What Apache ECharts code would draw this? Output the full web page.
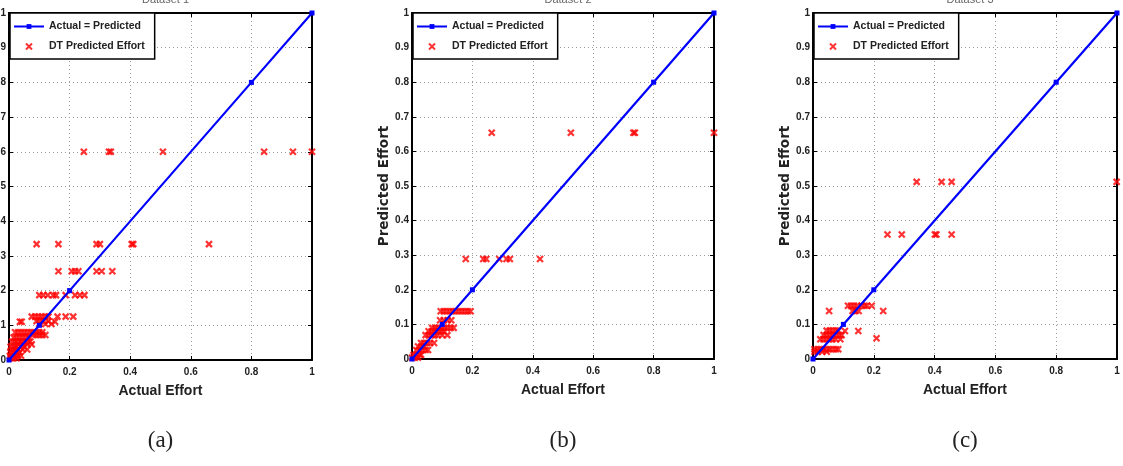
<!DOCTYPE html>
<html>
<head>
<meta charset="utf-8">
<script src="https://cdn.jsdelivr.net/npm/echarts@6/dist/echarts.min.js"></script>
<style>
  html, body { margin: 0; padding: 0; background: #fff; }
  #main { width: 1123px; height: 466px; }
</style>
</head>
<body>
<div id="main"></div>
<script>
// reference line: Actual = Predicted (marker positions)
var idealX = [0, 0.1, 0.2, 0.8, 1];

// DT predicted effort, [actual, predicted]
var dtA = [
  [0.247, 0.6], [0.33, 0.6], [0.336, 0.6], [0.508, 0.6], [0.842, 0.6], [0.937, 0.6], [1.0, 0.6],
  [0.091, 0.334], [0.163, 0.334], [0.289, 0.334], [0.300, 0.334], [0.405, 0.334], [0.41, 0.334], [0.66, 0.334],
  [0.163, 0.256], [0.207, 0.256], [0.218, 0.256], [0.229, 0.256], [0.289, 0.256], [0.306, 0.256], [0.341, 0.256],
  [0.1, 0.187], [0.113, 0.187], [0.128, 0.187], [0.146, 0.187], [0.155, 0.187], [0.187, 0.187], [0.218, 0.187], [0.234, 0.187], [0.249, 0.187],
  [0.075, 0.125], [0.086, 0.125], [0.097, 0.125], [0.108, 0.125], [0.119, 0.125], [0.13, 0.125], [0.16, 0.125], [0.187, 0.125], [0.212, 0.125],
  [0.036, 0.11], [0.042, 0.11], [0.091, 0.112], [0.103, 0.112], [0.115, 0.112], [0.13, 0.112], [0.152, 0.11],
  [0.1, 0.104], [0.12, 0.104], [0.14, 0.104],
  [0.02, 0.08], [0.03, 0.08], [0.04, 0.08], [0.05, 0.08], [0.06, 0.08], [0.07, 0.08], [0.08, 0.08], [0.09, 0.08], [0.1, 0.08], [0.11, 0.08],
  [0.08, 0.072], [0.09, 0.072], [0.1, 0.072], [0.11, 0.072], [0.12, 0.072],
  [0.015, 0.065], [0.025, 0.065], [0.035, 0.065], [0.045, 0.065], [0.055, 0.065], [0.065, 0.065],
  [0.01, 0.053], [0.02, 0.053], [0.03, 0.053], [0.04, 0.053], [0.05, 0.053], [0.06, 0.053], [0.07, 0.053],
  [0.03, 0.045], [0.045, 0.045], [0.06, 0.045], [0.075, 0.045],
  [0.005, 0.038], [0.015, 0.038], [0.025, 0.038], [0.04, 0.038], [0.05, 0.038],
  [0.01, 0.03], [0.02, 0.03], [0.03, 0.03], [0.045, 0.03], [0.06, 0.03],
  [0.005, 0.022], [0.015, 0.022], [0.025, 0.022], [0.035, 0.022],
  [0.003, 0.012], [0.01, 0.012], [0.02, 0.012], [0.03, 0.012], [0.04, 0.012],
  [0.005, 0.005], [0.015, 0.005], [0.025, 0.005]
];

var dtB = [
  [0.264, 0.654], [0.526, 0.654], [0.733, 0.654], [0.738, 0.654], [1.0, 0.654],
  [0.178, 0.289], [0.236, 0.289], [0.246, 0.289], [0.289, 0.289], [0.313, 0.289], [0.324, 0.289], [0.424, 0.289],
  [0.095, 0.138], [0.105, 0.138], [0.115, 0.138], [0.125, 0.138], [0.135, 0.138], [0.145, 0.138], [0.155, 0.138], [0.165, 0.138], [0.175, 0.138], [0.185, 0.138], [0.194, 0.138],
  [0.093, 0.112], [0.105, 0.112], [0.118, 0.112], [0.13, 0.112],
  [0.067, 0.09], [0.077, 0.09], [0.087, 0.09], [0.097, 0.09], [0.107, 0.09], [0.117, 0.09], [0.128, 0.09], [0.138, 0.09],
  [0.055, 0.08], [0.065, 0.08], [0.075, 0.08], [0.085, 0.08], [0.095, 0.08], [0.105, 0.08],
  [0.045, 0.069], [0.055, 0.069], [0.065, 0.069], [0.075, 0.069], [0.085, 0.069], [0.1, 0.069], [0.117, 0.069],
  [0.03, 0.046], [0.04, 0.046], [0.05, 0.046], [0.06, 0.046], [0.073, 0.046],
  [0.02, 0.036], [0.03, 0.036], [0.04, 0.036],
  [0.014, 0.026], [0.025, 0.026], [0.035, 0.026], [0.045, 0.026], [0.053, 0.026],
  [0.005, 0.012], [0.015, 0.012], [0.025, 0.012], [0.03, 0.012],
  [0.0, 0.004], [0.01, 0.004], [0.02, 0.004]
];

var dtC = [
  [0.341, 0.512], [0.423, 0.512], [0.456, 0.512], [0.999, 0.512],
  [0.245, 0.36], [0.292, 0.36], [0.401, 0.36], [0.406, 0.36], [0.456, 0.36],
  [0.115, 0.154], [0.125, 0.154], [0.135, 0.154], [0.145, 0.154], [0.16, 0.154], [0.17, 0.154], [0.178, 0.154], [0.193, 0.154],
  [0.053, 0.139], [0.13, 0.139], [0.14, 0.139], [0.15, 0.139], [0.231, 0.139],
  [0.105, 0.081], [0.149, 0.081], [0.209, 0.06],
  [0.045, 0.082], [0.055, 0.082], [0.065, 0.082], [0.075, 0.082], [0.083, 0.082],
  [0.035, 0.069], [0.045, 0.069], [0.055, 0.069], [0.065, 0.069], [0.075, 0.069], [0.085, 0.069], [0.094, 0.069],
  [0.024, 0.057], [0.034, 0.057], [0.044, 0.057], [0.054, 0.057], [0.064, 0.057], [0.075, 0.057], [0.09, 0.057],
  [0.005, 0.028], [0.015, 0.028], [0.025, 0.028], [0.035, 0.028], [0.045, 0.028], [0.055, 0.028], [0.065, 0.028], [0.075, 0.028], [0.083, 0.028],
  [0.005, 0.021], [0.015, 0.021], [0.03, 0.021], [0.045, 0.021]
];

var panels = [
  { data: dtA, left: 9, width: 303, height: 347, caption: '(a)', title: 'Dataset 1', yName: '' },
  { data: dtB, left: 412, width: 302, height: 346, caption: '(b)', title: 'Dataset 2', yName: 'Predicted Effort' },
  { data: dtC, left: 813, width: 304, height: 346, caption: '(c)', title: 'Dataset 3', yName: 'Predicted Effort' }
];

var FONT = 'Liberation Sans';
var chart = echarts.init(document.getElementById('main'), null, { renderer: 'canvas' });

var grids = [], xAxes = [], yAxes = [], series = [], legends = [], titles = [], graphics = [];

function axisBase(i, pos, interval, withLabel) {
  return {
    gridIndex: i,
    type: 'value',
    position: pos,
    min: 0,
    max: 1,
    interval: interval,
    axisLine: { show: true, onZero: false, lineStyle: { color: '#000', width: 2 } },
    axisTick: { show: true, inside: true, length: 4, lineStyle: { color: '#000', width: 1 } },
    axisLabel: {
      show: withLabel,
      margin: pos === 'bottom' ? 7 : 3,
      fontFamily: FONT,
      fontWeight: 'bold',
      fontSize: 10,
      color: '#222'
    },
    splitLine: { show: withLabel, lineStyle: { type: [1, 3], color: '#9a9a9a', width: 1 } }
  };
}

panels.forEach(function (p, i) {
  grids.push({ left: p.left, top: 13, width: p.width, height: p.height, outerBoundsMode: 'none', containLabel: false });

  var xb = axisBase(i, 'bottom', 0.2, true);
  xb.name = 'Actual Effort';
  xb.nameLocation = 'middle';
  xb.nameGap = 24;
  xb.nameTextStyle = { fontFamily: FONT, fontWeight: 'bold', fontSize: 14, color: '#222' };
  xAxes.push(xb);
  xAxes.push(axisBase(i, 'top', 0.2, false));

  var yl = axisBase(i, 'left', 0.1, true);
  if (p.yName) {
    yl.name = p.yName;
    yl.nameLocation = 'middle';
    yl.nameGap = 21;
    yl.nameTextStyle = { fontFamily: 'DejaVu Sans', fontWeight: 'bold', fontSize: 13.5, color: '#222' };
  }
  yAxes.push(yl);
  yAxes.push(axisBase(i, 'right', 0.1, false));

  series.push({
    name: 'Actual = Predicted',
    type: 'line',
    xAxisIndex: i * 2,
    yAxisIndex: i * 2,
    data: idealX.map(function (v) { return [v, v]; }),
    symbol: 'rect',
    symbolSize: 5,
    showSymbol: true,
    color: '#0000ff',
    lineStyle: { color: '#0000ff', width: 2.2 },
    itemStyle: { color: '#0000ff' },
    z: 3
  });
  series.push({
    name: 'DT Predicted Effort',
    type: 'scatter',
    xAxisIndex: i * 2,
    yAxisIndex: i * 2,
    data: p.data,
    symbol: 'path://M0,0L10,10M10,0L0,10',
    symbolSize: 6,
    itemStyle: { color: 'rgba(0,0,0,0)', borderColor: '#ff0000', borderWidth: 2.2 },
    z: 2
  });

  legends.push({
    left: p.left + 1,
    top: 13,
    orient: 'vertical',
    data: ['Actual = Predicted', 'DT Predicted Effort'],
    backgroundColor: '#fff',
    borderColor: '#000',
    borderWidth: 1.5,
    padding: [8, 10, 7, 3],
    itemGap: 9,
    itemWidth: 30,
    itemHeight: 6,
    selectedMode: false,
    textStyle: { fontFamily: FONT, fontWeight: 'bold', fontSize: 10.5, color: '#222' }
  });

  titles.push({
    text: p.title,
    left: p.left + p.width / 2,
    textAlign: 'center',
    top: -11,
    textStyle: { fontFamily: FONT, fontSize: 11, fontWeight: 'normal', color: '#666' }
  });

  graphics.push({
    type: 'text',
    x: p.left + p.width / 2,
    y: 441,
    style: {
      text: p.caption,
      fontFamily: 'Liberation Serif',
      fontSize: 23,
      fill: '#222',
      align: 'center',
      verticalAlign: 'middle'
    }
  });
});

var option = {
  animation: false,
  backgroundColor: '#fff',
  title: titles,
  grid: grids,
  xAxis: xAxes,
  yAxis: yAxes,
  legend: legends,
  series: series,
  graphic: graphics
};

chart.setOption(option);
</script>
</body>
</html>
